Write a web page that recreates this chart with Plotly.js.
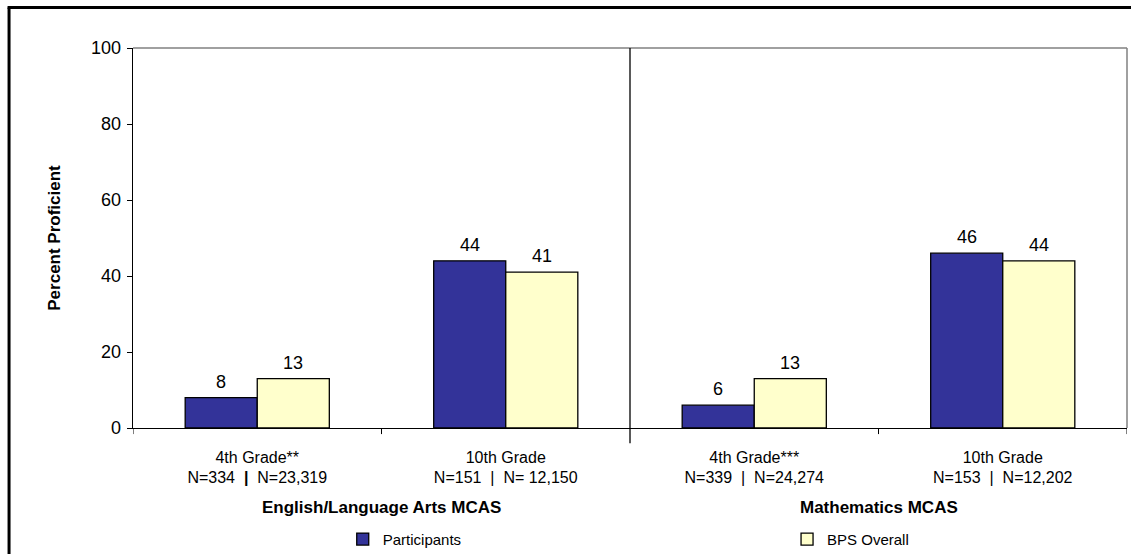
<!DOCTYPE html>
<html>
<head>
<meta charset="utf-8">
<script src="https://cdn.plot.ly/plotly-3.0.1.min.js"></script>
<style>html,body{margin:0;padding:0;background:#fff;}#chart{width:1131px;height:554px;}</style>
</head>
<body>
<div id="chart"></div>
<script>
const categories = [
  "4th Grade**<br>N=334  <b>|</b>  N=23,319",
  "10th Grade<br>N=151  |  N= 12,150",
  "4th Grade***<br>N=339  |  N=24,274",
  "10th Grade<br>N=153  |  N=12,202"
];
const participants = [8, 44, 6, 46];
const bpsOverall = [13, 41, 13, 44];
const groupTitles = ["English/Language Arts MCAS", "Mathematics MCAS"];
const seriesNames = ["Participants", "BPS Overall"];
const yTicks = [0, 20, 40, 60, 80, 100];

const FONT = "Liberation Sans, Arial, sans-serif";
const bargap = 0.42;
const idx = categories.map((_, i) => i);

const traces = [
  {type: "bar", name: seriesNames[0], x: idx, y: participants, legend: "legend",
   marker: {color: "#333399", line: {color: "#000", width: 1.3}}, hoverinfo: "y"},
  {type: "bar", name: seriesNames[1], x: idx, y: bpsOverall, legend: "legend2",
   marker: {color: "#FFFFCC", line: {color: "#000", width: 1.3}}, hoverinfo: "y"}
];

const half = (1 - bargap) / 4;
const annotations = [];
participants.forEach((v, i) => annotations.push({x: i - half, y: v, xref: "x", yref: "y", text: String(v),
  showarrow: false, yanchor: "bottom", yshift: 4, font: {family: FONT, size: 18, color: "#000"}}));
bpsOverall.forEach((v, i) => annotations.push({x: i + half, y: v, xref: "x", yref: "y", text: String(v),
  showarrow: false, yanchor: "bottom", yshift: 4, font: {family: FONT, size: 18, color: "#000"}}));
groupTitles.forEach((t, g) => annotations.push({x: g * 2 + 0.5, y: -0.208, xref: "x", yref: "paper", text: "<b>" + t + "</b>",
  showarrow: false, yanchor: "middle", font: {family: FONT, size: 17, color: "#000"}}));

const shapes = [
  {type: "line", xref: "paper", yref: "paper", x0: 0, x1: 1, y0: 1, y1: 1, line: {color: "#808080", width: 1.5}},
  {type: "line", xref: "paper", yref: "paper", x0: 1, x1: 1, y0: 0, y1: 1, line: {color: "#808080", width: 1.5}},
  {type: "line", xref: "x", yref: "paper", x0: 1.5, x1: 1.5, y0: -0.04, y1: 1, line: {color: "#000", width: 1.3}},
  {type: "line", xref: "paper", yref: "paper", x0: -0.1247, x1: -0.1247, y0: -0.5, y1: 1.1066, line: {color: "#000", width: 3}},
  {type: "line", xref: "paper", yref: "paper", x0: -0.1262, x1: 1.1, y0: 1.1066, y1: 1.1066, line: {color: "#000", width: 3}}
];
[-0.5, 0.5, 2.5, 3.5].forEach(b => shapes.push({type: "line", xref: "x", yref: "paper", x0: b, x1: b, y0: -0.016, y1: 0, line: {color: "#000", width: 1}}));

const legendBase = {orientation: "h", xanchor: "left", y: -0.293, yanchor: "middle", itemwidth: 30,
  font: {family: FONT, size: 15, color: "#000"}, bgcolor: "rgba(0,0,0,0)", borderwidth: 0};

const layout = {
  width: 1131, height: 554,
  margin: {l: 133, r: 4, t: 48, b: 126, autoexpand: false},
  paper_bgcolor: "#fff", plot_bgcolor: "#fff",
  barmode: "group", bargap: bargap, bargroupgap: 0,
  font: {family: FONT, color: "#000"},
  showlegend: true,
  legend: Object.assign({}, legendBase, {x: 0.211}),
  legend2: Object.assign({}, legendBase, {x: 0.658}),
  xaxis: {
    type: "linear", range: [-0.5, 3.5],
    tickmode: "array", tickvals: idx, ticktext: categories,
    showgrid: false, zeroline: false,
    showline: true, linecolor: "#000", linewidth: 1.3,
    ticks: "", tickfont: {family: FONT, size: 16, color: "#000"},
    ticklabelstandoff: 14
  },
  yaxis: {
    range: [0, 100], tickmode: "array", tickvals: yTicks,
    showgrid: false, zeroline: false,
    showline: true, linecolor: "#000", linewidth: 1.3,
    ticks: "outside", ticklen: 5, tickcolor: "#000", tickwidth: 1,
    ticklabelstandoff: 2,
    tickfont: {family: FONT, size: 18, color: "#000"},
    title: {text: "<b>Percent Proficient</b>", font: {family: FONT, size: 17, color: "#000"}, standoff: 26}
  },
  annotations: annotations,
  shapes: shapes
};

Plotly.newPlot("chart", traces, layout, {displayModeBar: false, staticPlot: true});
</script>
</body>
</html>
